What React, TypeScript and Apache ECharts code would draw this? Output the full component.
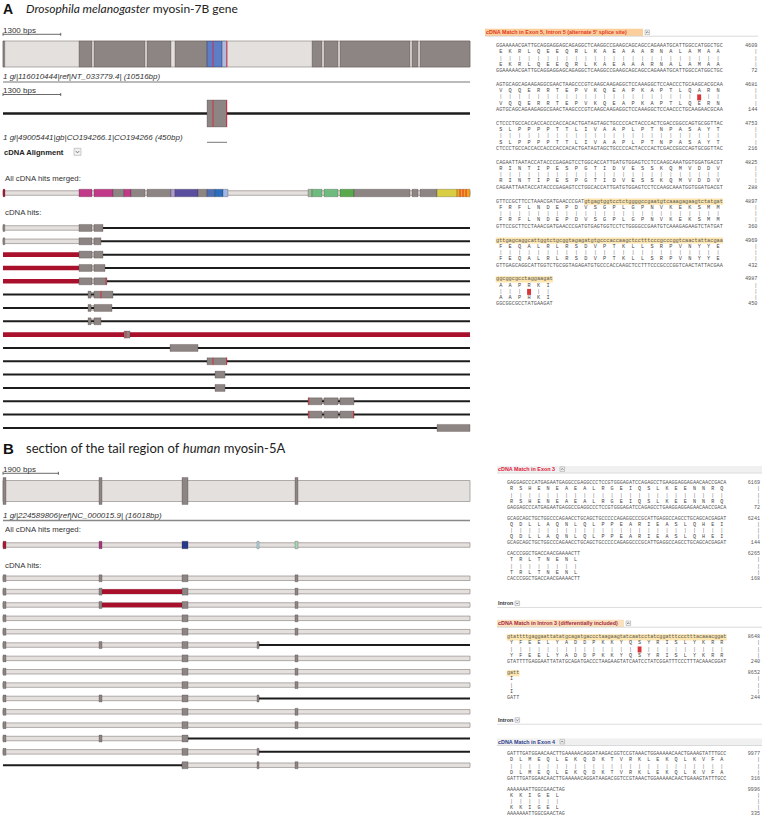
import React, { useEffect, useRef } from "react";
import * as echarts from "echarts";

// ---------------- DATA ----------------
const A_LEN = 10516;
const B_LEN = 16018;
const A_SCALE = 1300;
const B_SCALE = 1900;

const A_TITLE = ["Drosophila melanogaster", " myosin-7B gene"];
const B_TITLE = ["section of the tail region of ", "human", " myosin-5A"];
const A_GENE_LABEL = "1 gi|116010444|ref|NT_033779.4| (10516bp)";
const A_CDNA_LABEL = "1 gi|49005441|gb|CO194266.1|CO194266 (450bp)";
const B_GENE_LABEL = "1 gi|224589806|ref|NC_000015.9| (16018bp)";

// Panel A gene model (bp)
const A_geneExons = [[0, 40], [1711, 2004], [2049, 3198], [3243, 3783], [3873, 4594], [6959, 7184], [7229, 7544], [7589, 9165], [9210, 9346], [9391, 10516]];
const A_geneMatch = [[4594, 4932, "blue"], [4932, 5044, "ltblue"]];
const A_geneMarks = [4729, 5040];
const A_cdnaExons = [[4594, 5044]];
const A_cdnaMarks = [4729, 5034];
const A_merged = [
  [0, 45, "red"], [1711, 2004, "pink"], [2049, 2477, "pink"], [2477, 2725, "exon"], [2725, 2882, "pink"],
  [2882, 3198, "exon"], [3243, 3783, "exon"], [3783, 3873, "lav"], [3873, 4391, "purple"], [4391, 4594, "exon"],
  [4594, 4774, "blue1"], [4774, 4954, "blue2"], [4954, 5067, "ltblue2"], [6869, 6959, "grgray"],
  [6959, 7184, "green"], [7229, 7544, "green"], [7589, 7904, "green2"], [7904, 9165, "exon"],
  [9210, 9346, "exon"], [9391, 9773, "exon"], [9773, 10224, "yellow"], [10224, 10516, "orange"],
];
const A_mergedMarks = [10292, 10359, 10427];

// Panel A cDNA hits (16 rows)
const A_hits = [
  { band: [[0, 2049]], black: [[2252, A_LEN]], exons: [[0, 40], [1711, 2004], [2049, 2252]] },
  { band: [[0, 2049]], black: [[2207, A_LEN]], exons: [[0, 40], [1711, 2004], [2049, 2207]] },
  { red: [[0, 1711]], band: [[2004, 2049]], black: [[2252, A_LEN]], exons: [[1711, 2004], [2049, 2252]] },
  { red: [[0, 1711]], band: [[2004, 2049]], black: [[2297, A_LEN]], exons: [[1711, 2004], [2049, 2297]] },
  { red: [[0, 1711]], band: [[2004, 2049]], black: [[2342, A_LEN]], exons: [[1711, 2004], [2049, 2342]], marks: [2320] },
  { black: [[0, A_LEN]], band: [[1982, 2049]], exons: [[1914, 1982], [2049, 2477]], marks: [2207] },
  { black: [[0, A_LEN]], band: [[1982, 2049]], exons: [[1914, 1982], [2049, 2455]] },
  { black: [[0, A_LEN]], band: [[1982, 2049]], exons: [[1914, 1982], [2049, 2207]] },
  { red: [[0, A_LEN]], exons: [[2725, 2860]], marks: [2770] },
  { black: [[0, A_LEN]], exons: [[3761, 4391]] },
  { black: [[0, A_LEN]], exons: [[4594, 5044]], marks: [4729, 5034] },
  { black: [[0, A_LEN]], exons: [[4774, 5000]] },
  { black: [[0, A_LEN]], exons: [[4774, 5000]] },
  { black: [[0, A_LEN]], band: [[7184, 7229], [7544, 7589]], exons: [[6869, 7184], [7229, 7544], [7589, 7904]], marks: [6885] },
  { black: [[0, A_LEN]], band: [[7184, 7229], [7544, 7589]], exons: [[6869, 7184], [7229, 7544], [7589, 7904]], marks: [6885, 7895] },
  { black: [[0, A_LEN]], exons: [[9773, A_LEN]] },
];

// Panel B gene model (bp)
const B_E1 = [0, 103];
const B_E2 = [3293, 3396];
const B_E3 = [6140, 6346];
const B_E3b = [8713, 8781];
const B_E4 = [10016, 10119];
const B_geneExons = [B_E1, B_E2, B_E3, B_E4];
const B_merged = [[...B_E1, "red"], [...B_E2, "magenta"], [...B_E3, "navy"], [...B_E3b, "cyan"], [...B_E4, "teal"]];

// Panel B cDNA hits (15 rows)
const B_hits = [
  { band: [[0, B_LEN]], exons: [B_E1, B_E2, B_E3, B_E4] },
  { band: [[0, B_LEN]], red: [[B_E2[1], B_E3[0]]], exons: [B_E1, B_E2, B_E3, B_E4] },
  { band: [[0, B_LEN]], red: [[B_E2[1], B_E3[0]]], exons: [B_E1, B_E2, B_E3, B_E4] },
  { band: [[0, B_LEN]], exons: [B_E1, B_E3, B_E4] },
  { band: [[0, B_LEN]], exons: [B_E1, B_E3, B_E4] },
  { band: [[0, B_E3b[1]]], black: [[B_E3b[1], B_LEN]], exons: [B_E1, B_E2, B_E3, B_E3b] },
  { band: [[0, B_LEN]], exons: [B_E1, B_E3, B_E4] },
  { band: [[0, B_LEN]], exons: [B_E1, B_E3, B_E4] },
  { band: [[0, B_LEN]], exons: [B_E1, B_E3, B_E4] },
  { band: [[0, B_E3b[1]]], black: [[B_E3b[1], B_LEN]], exons: [B_E1, B_E2, B_E3, B_E3b] },
  { band: [[0, B_LEN]], exons: [B_E1, B_E3, B_E4] },
  { band: [[0, B_LEN]], exons: [B_E1, B_E3, B_E4] },
  { band: [[0, B_E3[1]]], black: [[B_E3[1], B_LEN]], exons: [B_E1, B_E2, B_E3] },
  { band: [[0, B_E3b[1]]], black: [[B_E3b[1], B_LEN]], exons: [B_E1, B_E3, B_E3b] },
  { black: [[0, B_E3[0]]], band: [[B_E3[0], B_LEN]], exons: [B_E3, B_E3b, B_E4] },
];

// Alignment A: Exon 5 / Intron 5
const A_HEADER = "cDNA Match in Exon 5, Intron 5 (alternate 5' splice site)";
const A_gen = [
  "GGAAAAACGATTGCAGGAGGAGCAGAGGCTCAAGGCCGAAGCAGCAGCCAGAAATGCATTGGCCATGGCTGC",
  "AGTGCAGCAGAAGAGGCGAACTAAGCCCGTCAAGCAAGAGGCTCCAAAGGCTCCAACCCTGCAAGCACGCAA",
  "CTCCCTGCCACCACCACCCACCACACTGATAGTAGCTGCCCCACTACCCACTCGACCGGCCAGTGCGGTTAC",
  "CAGAATTAATACCATACCCGAGAGTCCTGGCACCATTGATGTGGAGTCCTCCAAGCAAATGGTGGATGACGT",
  "GTTCCGCTTCCTAAACGATGAACCCGATgtgagtggtcctctggggccgaatgtcaaagagaagtctatgat",
  "gttgagcaggcattggtctgcggtagagatgtgcccaccaagctcctttcccgcccggtcaactattacgaa",
  "ggcggcgcctaggaagat",
];
const A_cdna = [
  "GGAAAAACGATTGCAGGAGGAGCAGAGGCTCAAGGCCGAAGCAGCAGCCAGAAATGCATTGGCCATGGCTGC",
  "AGTGCAGCAGAAGAGGCGAACTAAGCCCGTCAAGCAAGAGGCTCCAAAGGCTCCAACCCTGCAAGAACGCAA",
  "CTCCCTGCCACCACCACCCACCACACTGATAGTAGCTGCCCCACTACCCACTCGACCGGCCAGTGCGGTTAC",
  "CAGAATTAATACCATACCCGAGAGTCCTGGCACCATTGATGTGGAGTCCTCCAAGCAAATGGTGGATGACGT",
  "GTTCCGCTTCCTAAACGATGAACCCGATGTGAGTGGTCCTCTGGGGCCGAATGTCAAAGAGAAGTCTATGAT",
  "GTTGAGCAGGCATTGGTCTGCGGTAGAGATGTGCCCACCAAGCTCCTTTCCCGCCCGGTCAACTATTACGAA",
  "GGCGGCGCCTATGAAGAT",
];
const A_aaTop = ["EKRLQEEQRLKAEAAARNALAMAA", "VQQERRTEPVKQEAPKAPTLQARN", "SLPPPPTTLIVAAPLPTNPASAYT", "RINTIPESPGTIDVESSKQMVDDV", "FRFLNDEPDVSGPLGPNVKEKSMM", "FEQALRLRSDVPTKLLSRPVNYYE", "AAPRKI"];
const A_aaBot = ["EKRLQEEQRLKAEAAARNALAMAA", "VQQERRTEPVKQEAPKAPTLQERN", "SLPPPPTTLIVAAPLPTNPASAYT", "RINTIPESPGTIDVESSKQMVDDV", "FRFLNDEPDVSGPLGPNVKEKSMM", "FEQALRLRSDVPTKLLSRPVNYYE", "AAPHKI"];
const A_numTop = [4609, 4681, 4753, 4825, 4897, 4969, 4987];
const A_numBot = [72, 144, 216, 288, 360, 432, 450];
const A_mismatch = [[1, 21], [6, 3]];
const A_highlight = [[4, 28, 72], [5, 0, 72], [6, 0, 18]];

// Alignment B: Exon 3
const B1_HEADER = "cDNA Match in Exon 3";
const B1_gen = [
  "GAGGAGCCCATGAGAATGAGGCCGAGGCCCTCCGTGGGAGATCCAGAGCCTGAAGGAGGAGAACAACCGACA",
  "GCAGCAGCTGCTGGCCCAGAACCTGCAGCTGCCCCCAGAGGCCCGCATTGAGGCCAGCCTGCAGCACGAGAT",
  "CACCCGGCTGACCAACGAAAACTT",
];
const B1_aa = ["RSHENEAEALRGEIQSLKEENNRQ", "QDLLAQNLQLPPEARIEASLQHEI", "TRLTNENL"];
const B1_numTop = [6169, 6241, 6265];
const B1_numBot = [72, 144, 168];

// Alignment B: Intron 3
const B2_HEADER = "cDNA Match in Intron 3 (differentially included)";
const B2_gen = ["gtattttgaggaattatatgcagatgaccctaagaagtatcaatcctatcggatttccctttacaaacggat", "gatt"];
const B2_cdna = ["GTATTTTGAGGAATTATATGCAGATGACCCTAAGAAGTATCAATCCTATCGGATTTCCCTTTACAAACGGAT", "GATT"];
const B2_aa = ["YFEELYADDPKKYQSYRISLYKRR", "I"];
const B2_numTop = [8648, 8652];
const B2_numBot = [240, 244];
const B2_mismatch = [[0, 14]];
const B2_highlight = [[0, 0, 72], [1, 0, 4]];

// Alignment B: Exon 4
const B3_HEADER = "cDNA Match in Exon 4";
const B3_gen = ["GATTTGATGGAACAACTTGAAAAACAGGATAAGACGGTCCGTAAACTGGAAAAACAACTGAAAGTATTTGCC", "AAAAAAATTGGCGAACTAG"];
const B3_aa = ["DLMEQLEKQDKTVRKLEKQLKVFA", "KKIGEL"];
const B3_numTop = [9977, 9996];
const B3_numBot = [316, 335];

const INTRON_LABEL = "Intron";

// ---------------- STYLES ----------------
const PAL: Record<string, string> = {
  exon: "#8d8583", blue: "rgba(38,88,190,0.72)", ltblue: "rgba(120,150,225,0.5)", red: "#b0142f",
  pink: "#c2398a", lav: "#a99ad0", purple: "#5a4f9e", blue1: "#4c6fb2", blue2: "#2a6fbf", ltblue2: "#a2b6e3",
  grgray: "#9ab89a", green: "#6dbb7f", green2: "#58a84c", yellow: "#d9cd42", orange: "#f2a21e",
  magenta: "#a8357f", navy: "#25398a", cyan: "#a9dfe8", teal: "#a3d8b4",
};
const BAND_FILL = "#e4e0de";
const BAND_STROKE = "#948c8a";
const EXON_STROKE = "rgba(60,50,50,0.45)";
const RED_LINE = "#a8102b";
const MARK = "#d8283a";
const SANS = "Liberation Sans";
const MONO = "Liberation Mono";
const GL = 3;
const GW = 467;

const pxA = (bp: number) => GL + (bp * GW) / A_LEN;

function rectRender(h: number, fill: string | null, stroke: string | null, lw: number, minW = 1) {
  return (params: any, api: any) => {
    const a = api.coord([api.value(0), api.value(2)]);
    const b = api.coord([api.value(1), api.value(2)]);
    return {
      type: "rect",
      shape: { x: a[0], y: a[1] - h / 2, width: Math.max(b[0] - a[0], minW), height: h },
      style: { fill: fill ?? api.visual("color"), stroke: stroke ?? undefined, lineWidth: lw },
    };
  };
}
function markRender(h: number, color: string) {
  return (params: any, api: any) => {
    const p = api.coord([api.value(0), api.value(1)]);
    return { type: "line", shape: { x1: p[0], y1: p[1] - h / 2, x2: p[0], y2: p[1] + h / 2 }, style: { stroke: color, lineWidth: 0.9 } };
  };
}

function trackSeries(g: number, rows: any[], cfg: any) {
  const band: any[] = [], black: any[] = [], red: any[] = [], exon: any[] = [], marks: any[] = [];
  rows.forEach((r, i) => {
    (r.band || []).forEach((s: any) => band.push([s[0], s[1], i]));
    (r.black || []).forEach((s: any) => black.push([s[0], s[1], i]));
    (r.red || []).forEach((s: any) => red.push([s[0], s[1], i]));
    (r.exons || []).forEach((s: any) => exon.push({ value: [s[0], s[1], i], itemStyle: { color: PAL[s[2] || "exon"] } }));
    (r.marks || []).forEach((p: number) => marks.push([p, i]));
  });
  const base = { type: "custom", xAxisIndex: g, yAxisIndex: g, silent: true, clip: false };
  return [
    { ...base, z: 1, encode: { x: [0, 1], y: 2 }, data: band, renderItem: rectRender(cfg.bandH, BAND_FILL, BAND_STROKE, 0.7) },
    { ...base, z: 2, encode: { x: [0, 1], y: 2 }, data: black, renderItem: rectRender(cfg.blackH || 2, "#1c1c1c", null, 0) },
    { ...base, z: 2, encode: { x: [0, 1], y: 2 }, data: red, renderItem: rectRender(cfg.redH || 4.5, RED_LINE, null, 0) },
    { ...base, z: 3, encode: { x: [0, 1], y: 2 }, data: exon, itemStyle: { color: PAL.exon }, renderItem: rectRender(cfg.exonH, null, EXON_STROKE, 0.6, cfg.minW || 1.2) },
    { ...base, z: 4, encode: { x: 0, y: 1 }, data: marks, renderItem: markRender(cfg.exonH, MARK) },
  ];
}

// ---------------- GRAPHIC HELPERS ----------------
function T(x: number, y: number, text: string, o: any = {}) {
  return {
    type: "text", x, y, silent: true, z: 10,
    style: {
      text, fill: o.fill || "#333", fontSize: o.size || 8, fontFamily: o.family || SANS,
      fontWeight: o.weight || "normal", fontStyle: o.style || "normal",
      align: o.align || "left", textAlign: o.align || "left", verticalAlign: "middle", textVerticalAlign: "middle",
    },
  };
}
function R(x: number, y: number, w: number, h: number, fill: string, stroke?: string, lw = 0.6) {
  return { type: "rect", silent: true, z: 5, shape: { x, y, width: w, height: h }, style: { fill, stroke, lineWidth: lw } };
}
function L(x1: number, y1: number, x2: number, y2: number, stroke: string, lw = 1) {
  return { type: "line", silent: true, z: 6, shape: { x1, y1, x2, y2 }, style: { stroke, lineWidth: lw } };
}
function icon(x: number, y: number, up: boolean, s = 4.6) {
  const pts = up
    ? [[x + s * 0.25, y + s * 0.65], [x + s * 0.5, y + s * 0.35], [x + s * 0.75, y + s * 0.65]]
    : [[x + s * 0.25, y + s * 0.38], [x + s * 0.5, y + s * 0.66], [x + s * 0.75, y + s * 0.38]];
  return [
    R(x, y, s, s, "#f2f2f2", "#9a9a9a", 0.5),
    { type: "polyline", silent: true, z: 7, shape: { points: pts }, style: { stroke: "#555", lineWidth: 0.7, fill: null } },
  ];
}
function scaleBar(x: number, y: number, w: number, label: string) {
  return [T(x, y - 4, label, { size: 8, fill: "#333" }), L(x, y, x + w, y, "#444", 0.8), L(x, y - 1.5, x, y + 1.5, "#444", 0.8), L(x + w, y - 1.5, x + w, y + 1.5, "#444", 0.8)];
}

const NB = "\u00a0";
function aaLine(aa: string, len: number) {
  const arr = new Array(Math.max(len, aa.length * 3)).fill(NB);
  for (let k = 0; k < aa.length; k++) arr[1 + 3 * k] = aa[k];
  return arr.join("");
}
function barLine(n: number, len: number, skip: number[]) {
  const arr = new Array(Math.max(len, n * 3)).fill(NB);
  for (let k = 0; k < n; k++) if (!skip.includes(k)) arr[1 + 3 * k] = "|";
  return arr.join("");
}

function alignment(o: any) {
  const els: any[] = [];
  o.gen.forEach((g: string, b: number) => {
    const t = o.tops[b];
    const gap = o.gap;
    const cw = o.size * 0.6;
    const aaT = o.aaTop[b];
    const aaB = (o.aaBot || o.aaTop)[b];
    const cd = (o.cdna || o.gen)[b];
    (o.highlight || []).filter((h: number[]) => h[0] === b).forEach((h: number[]) => {
      els.push(R(o.x0 + h[1] * cw - 0.3, t - 3.1, (h[2] - h[1]) * cw + 0.6, 6.2, "#fce5ae"));
    });
    const mm = (o.mismatch || []).filter((m: number[]) => m[0] === b).map((m: number[]) => m[1]);
    mm.forEach((k: number) => els.push(R(o.x0 + (1 + 3 * k) * cw - 0.4, t + 2 * gap - 3, cw + 0.8, 6, "#d9363a")));
    const f = { size: o.size, family: MONO, fill: "#555" };
    els.push(T(o.x0, t, g, f));
    els.push(T(o.x0, t + gap, aaLine(aaT, g.length), { ...f, fill: "#444" }));
    els.push(T(o.x0, t + 2 * gap, barLine(aaT.length, g.length, mm), { ...f, fill: "#777" }));
    els.push(T(o.x0, t + 3 * gap, aaLine(aaB, g.length), { ...f, fill: "#444" }));
    els.push(T(o.x0, t + 4 * gap, cd.toUpperCase(), f));
    els.push(T(o.numR, t, String(o.numTop[b]), { ...f, align: "right" }));
    for (let j = 1; j <= 3; j++) els.push(T(o.numR, t + j * gap, "|", { ...f, align: "right", fill: "#777" }));
    els.push(T(o.numR, t + 4 * gap, String(o.numBot[b]), { ...f, align: "right" }));
  });
  return els;
}

function header(x: number, y: number, text: string, color: string, bg: string, bgFull: boolean, textW: number, lineR: number) {
  const els: any[] = [];
  if (bgFull) els.push(R(x, y - 3.2, lineR - x, 6.4, bg));
  else els.push(R(x, y - 3.6, textW + 2, 7.2, bg));
  els.push(T(x + 1, y, text, { size: 5.4, weight: "bold", fill: color }));
  els.push(...icon(x + textW + 4, y - 2.4, true));
  els.push(L(x, y + 3.8, lineR, y + 3.8, "#cfcfcf", 0.8));
  return els;
}

// ---------------- COMPONENT ----------------
export default function App() {
  const ref = useRef<HTMLDivElement>(null);
  useEffect(() => {
    if (!ref.current) return;
    const chart = echarts.init(ref.current, null, { renderer: "svg", width: 763, height: 819 });

    const grids = [
      { top: 41, height: 26 },
      { top: 100, height: 27 },
      { top: 186, height: 14 },
      { top: 221.3, height: 213.3 },
      { top: 477.5, height: 27 },
      { top: 538, height: 14 },
      { top: 571.6, height: 200.3 },
    ];
    const rowsPer = [1, 1, 1, A_hits.length, 1, 1, B_hits.length];
    const lens = [A_LEN, A_LEN, A_LEN, A_LEN, B_LEN, B_LEN, B_LEN];

    const series = [
      ...trackSeries(0, [{ band: [[0, A_LEN]], exons: [...A_geneExons, ...A_geneMatch], marks: A_geneMarks }], { bandH: 26, exonH: 26 }),
      ...trackSeries(1, [{ black: [[0, A_LEN]], exons: A_cdnaExons, marks: A_cdnaMarks }], { blackH: 2.4, exonH: 27 }),
      ...trackSeries(2, [{ band: [[0, A_LEN]], exons: A_merged, marks: A_mergedMarks }], { bandH: 4.5, exonH: 7.5 }),
      ...trackSeries(3, A_hits, { bandH: 4.5, blackH: 2, redH: 4.6, exonH: 7 }),
      ...trackSeries(4, [{ band: [[0, B_LEN]], exons: B_geneExons }], { bandH: 21, exonH: 27, minW: 2 }),
      ...trackSeries(5, [{ band: [[0, B_LEN]], exons: B_merged }], { bandH: 4.5, exonH: 7.5, minW: 2 }),
      ...trackSeries(6, B_hits, { bandH: 4.5, blackH: 2, redH: 4.6, exonH: 7, minW: 2 }),
    ];

    const aScaleW = (A_SCALE * GW) / A_LEN;
    const bScaleW = (B_SCALE * GW) / B_LEN;
    const titleRich = (x: number, y: number, parts: string[], italicIdx: number[], size: number) => ({
      type: "text", x, y, silent: true, z: 10,
      style: {
        text: parts.map((p, i) => `{${italicIdx.includes(i) ? "i" : "n"}|${p}}`).join(""),
        verticalAlign: "middle", textVerticalAlign: "middle",
        rich: {
          i: { fontStyle: "italic", fontFamily: "Lato", fontSize: size, fill: "#222", color: "#222" },
          n: { fontFamily: "Lato", fontSize: size, fill: "#222", color: "#222" },
        },
      },
    });

    const graphic: any[] = [
      // Panel A left
      T(3, 8.5, "A", { size: 14, weight: "bold", fill: "#111" }),
      titleRich(26, 8.5, A_TITLE, [0], 12),
      ...scaleBar(GL, 34.3, aScaleW, `${A_SCALE} bps`),
      T(3, 76.5, A_GENE_LABEL, { size: 8, style: "italic" }),
      L(3, 82, 470, 82, "#777", 1),
      ...scaleBar(GL, 94.5, aScaleW, `${A_SCALE} bps`),
      T(3, 137, A_CDNA_LABEL, { size: 8, style: "italic" }),
      L(pxA(A_cdnaExons[0][0]), 142.3, pxA(A_cdnaExons[0][1]), 142.3, "#555", 0.8),
      T(4, 152, "cDNA Alignment", { size: 7.6, weight: "bold", fill: "#222" }),
      ...icon(74, 148.3, false, 7),
      T(5, 178, "All cDNA hits merged:", { size: 7.8, fill: "#333" }),
      T(5, 212, "cDNA hits:", { size: 7.8, fill: "#333" }),
      // Panel B left
      T(3, 448, "B", { size: 15, weight: "bold", fill: "#111" }),
      titleRich(26, 448, B_TITLE, [1], 13),
      ...scaleBar(GL, 473.3, bScaleW, `${B_SCALE} bps`),
      T(3, 515.8, B_GENE_LABEL, { size: 8, style: "italic" }),
      L(3, 520.5, 470, 520.5, "#888", 1.4),
      T(5, 529.5, "All cDNA hits merged:", { size: 7.8, fill: "#333" }),
      T(5, 565, "cDNA hits:", { size: 7.8, fill: "#333" }),
      // Panel A right
      ...header(485, 32.4, A_HEADER, "#e3381f", "#fbcf9c", false, 156, 758),
      ...alignment({
        gen: A_gen, cdna: A_cdna, aaTop: A_aaTop, aaBot: A_aaBot, numTop: A_numTop, numBot: A_numBot,
        mismatch: A_mismatch, highlight: A_highlight, x0: 496, numR: 757.5, size: 5.25, gap: 6.25,
        tops: A_gen.map((_, k) => 46 + k * 38.9),
      }),
      // Panel B right
      ...header(497, 469.2, B1_HEADER, "#e0203c", "#f0f0f0", true, 59, 762),
      ...alignment({
        gen: B1_gen, aaTop: B1_aa, numTop: B1_numTop, numBot: B1_numBot, x0: 507, numR: 760, size: 5.08, gap: 6.1,
        tops: B1_gen.map((_, k) => 483.3 + k * 35.5),
      }),
      T(498, 603.3, INTRON_LABEL, { size: 5.4, weight: "bold", fill: "#333" }),
      ...icon(515, 601, false),
      L(497, 607.5, 762, 607.5, "#d5d5d5", 0.8),
      ...header(497, 623.4, B2_HEADER, "#a3283e", "#fbe0bd", false, 125, 762),
      ...alignment({
        gen: B2_gen, cdna: B2_cdna, aaTop: B2_aa, numTop: B2_numTop, numBot: B2_numBot, mismatch: B2_mismatch,
        highlight: B2_highlight, x0: 507, numR: 760, size: 5.08, gap: 6.1,
        tops: B2_gen.map((_, k) => 637.3 + k * 36),
      }),
      T(498, 720, INTRON_LABEL, { size: 5.4, weight: "bold", fill: "#333" }),
      ...icon(515, 717.7, false),
      L(497, 724.2, 762, 724.2, "#d5d5d5", 0.8),
      ...header(497, 741.7, B3_HEADER, "#2c3d8c", "#f0f0f0", true, 59, 762),
      ...alignment({
        gen: B3_gen, aaTop: B3_aa, numTop: B3_numTop, numBot: B3_numBot, x0: 507, numR: 760, size: 5.08, gap: 6.1,
        tops: B3_gen.map((_, k) => 754.3 + k * 35.7),
      }),
    ];

    chart.setOption({
      animation: false,
      backgroundColor: "#ffffff",
      grid: grids.map((g) => ({ left: GL, width: GW, top: g.top, height: g.height, show: false, containLabel: false })),
      xAxis: grids.map((_, i) => ({ type: "value", gridIndex: i, min: 0, max: lens[i], show: false })),
      yAxis: grids.map((_, i) => ({
        type: "category", gridIndex: i, inverse: true, show: false,
        data: Array.from({ length: rowsPer[i] }, (_, k) => `row${k + 1}`),
      })),
      series,
      graphic,
    });
    return () => chart.dispose();
  }, []);
  return <div ref={ref} style={{ position: "absolute", left: 0, top: 0, width: 763, height: 819, background: "#fff" }} />;
}
